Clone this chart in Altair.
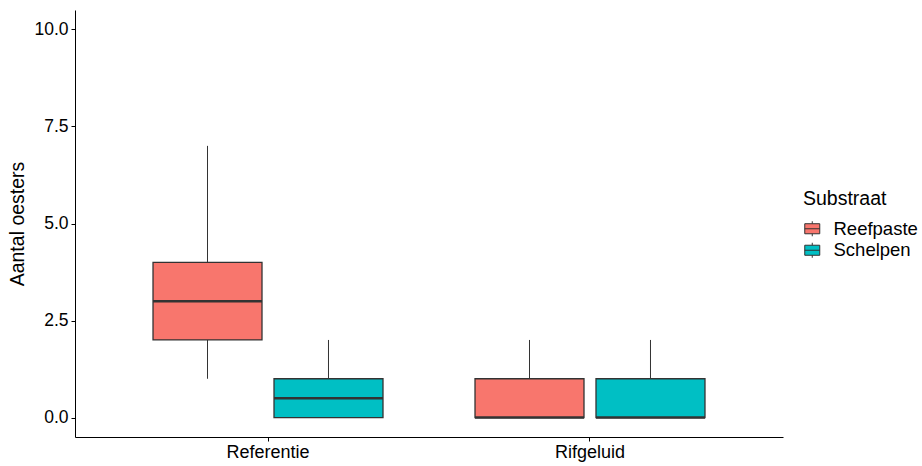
import altair as alt
import pandas as pd

# Boxplot summary per treatment and substrate
behandeling = ["Referentie", "Referentie", "Rifgeluid", "Rifgeluid"]
substraat = ["Reefpaste", "Schelpen", "Reefpaste", "Schelpen"]
whisker_low = [1, 0, 0, 0]
q1 = [2, 0, 0, 0]
median = [3, 0.5, 0, 0]
q3 = [4, 1, 1, 1]
whisker_high = [7, 2, 2, 2]

groups = ["Referentie", "Rifgeluid"]
substrates = ["Reefpaste", "Schelpen"]
colors = ["#F8766D", "#00BFC4"]
y_ticks = [0, 2.5, 5, 7.5, 10]

df = pd.DataFrame({
    "Behandeling": behandeling,
    "Substraat": substraat,
    "lo": whisker_low,
    "q1": q1,
    "med": median,
    "q3": q3,
    "hi": whisker_high,
})

FONT = "Liberation Sans"
INK = "#333333"

x_enc = alt.X(
    "Behandeling:N",
    scale=alt.Scale(domain=groups, paddingInner=0.25, paddingOuter=0.2244),
    axis=alt.Axis(title=None, labelAngle=0, domainColor="black", tickColor="black",
                  tickSize=4, labelColor="black", labelFontSize=18, labelFont=FONT,
                  labelPadding=2),
)
xoff = alt.XOffset(
    "Substraat:N",
    scale=alt.Scale(domain=substrates, paddingInner=0.0992, paddingOuter=0.0476),
)
y_scale = alt.Scale(domain=[-0.5, 10.5], nice=False, zero=False)
y_axis = alt.Axis(title="Aantal oesters", values=y_ticks, format=".1f", grid=False,
                  domainColor="black", tickColor="black", tickSize=4,
                  labelColor="black", labelFontSize=17.5, labelFont=FONT,
                  titleFont=FONT, titleFontSize=19.5, titleFontWeight="normal",
                  titleColor="black", labelPadding=3, titlePadding=6)
color_enc = alt.Color(
    "Substraat:N",
    scale=alt.Scale(domain=substrates, range=colors),
    legend=alt.Legend(
        title="Substraat", orient="none", legendX=728, legendY=180,
        titleFont=FONT, titleFontSize=19.5, titleFontWeight="normal", titleColor="black",
        labelFont=FONT, labelFontSize=18.5, labelColor="black",
        symbolType="M0,-1V-0.67M-1,-0.67H1V0.67H-1ZM-1,0H1M0,0.67V1",
        symbolSize=225, symbolStrokeColor=INK, symbolStrokeWidth=1,
        symbolOpacity=1, rowPadding=1.5, titlePadding=10, labelOffset=12,
    ),
)

base = alt.Chart(df)

whiskers = base.mark_rule(color=INK, strokeWidth=1).encode(
    x=x_enc, xOffset=xoff,
    y=alt.Y("lo:Q", scale=y_scale, axis=y_axis),
    y2="hi:Q",
)

boxes = base.mark_bar(stroke=INK, strokeWidth=1.3, opacity=1).encode(
    x=x_enc, xOffset=xoff,
    y=alt.Y("q1:Q", scale=y_scale),
    y2="q3:Q",
    color=color_enc,
)

medians = base.mark_tick(color=INK, thickness=2.5, size=109, orient="horizontal", opacity=1).encode(
    x=x_enc, xOffset=xoff,
    y=alt.Y("med:Q", scale=y_scale),
)

chart = (
    alt.layer(whiskers, boxes, medians)
    .properties(
        width=708, height=427,
        autosize=alt.AutoSizeParams(type="none"),
        padding={"left": 75, "top": 10, "right": 139, "bottom": 29},
        background="white",
    )
    .configure_view(stroke=None)
)

chart.save("out.html", embed_options={"renderer": "svg", "actions": False})
